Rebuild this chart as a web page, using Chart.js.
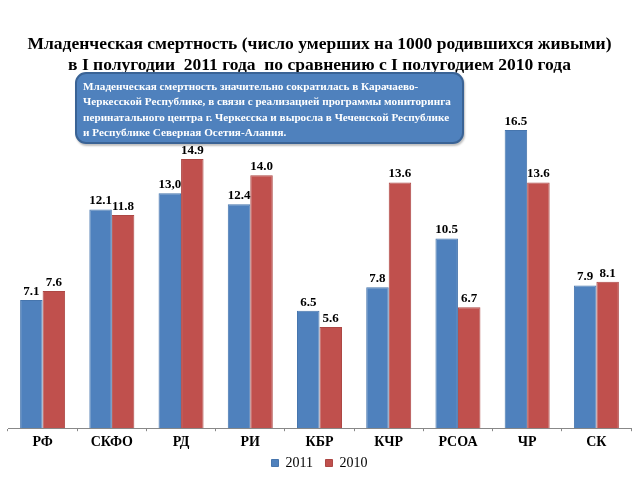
<!DOCTYPE html>
<html>
<head>
<meta charset="utf-8">
<script src="https://cdn.jsdelivr.net/npm/chart.js@4.4.0/dist/chart.umd.min.js"></script>
<style>
  html, body { margin: 0; padding: 0; background: #fff; }
  #wrap { position: relative; width: 640px; height: 480px; }
  #note {
    position: absolute; left: 75px; top: 72px; width: 374px; height: 57px;
    padding: 5px 5px 6px 6px; white-space: nowrap; overflow: hidden;
    background: #4f81bd; border: 2px solid #3a6395; border-radius: 11px;
    box-shadow: 1px 2px 2px rgba(0,0,0,0.25);
    color: #fff; font: bold 11.2px "Liberation Serif", serif; line-height: 15.4px;
  }
</style>
</head>
<body>
<div id="wrap">
  <canvas id="chart" width="640" height="480"></canvas>
  <div id="note">Младенческая смертность значительно сократилась в Карачаево-<br>Черкесской Республике, в связи с реализацией программы мониторинга<br>перинатального центра г. Черкесска и выросла в Чеченской Республике<br>и Республике Северная Осетия-Алания.</div>
</div>
<script>
// Данные
const regions = ['РФ', 'СКФО', 'РД', 'РИ', 'КБР', 'КЧР', 'РСОА', 'ЧР', 'СК'];
const values2011 = [7.1, 12.1, 13.0, 12.4, 6.5, 7.8, 10.5, 16.5, 7.9];
const values2010 = [7.6, 11.8, 14.9, 14.0, 5.6, 13.6, 6.7, 13.6, 8.1];
const labels2011 = ['7.1', '12.1', '13,0', '12.4', '6.5', '7.8', '10.5', '16.5', '7.9'];
const labels2010 = ['7.6', '11.8', '14.9', '14.0', '5.6', '13.6', '6.7', '13.6', '8.1'];

const serif = '"Liberation Serif", "Times New Roman", serif';

// подписи значений над столбиками
const valueLabels = {
    id: 'valueLabels',
    afterDatasetsDraw(chart) {
        const ctx = chart.ctx;
        const texts = [labels2011, labels2010];
        ctx.save();
        ctx.font = 'bold 13px ' + serif;
        ctx.fillStyle = '#000';
        ctx.textAlign = 'center';
        ctx.textBaseline = 'bottom';
        chart.data.datasets.forEach((ds, i) => {
            chart.getDatasetMeta(i).data.forEach((bar, j) => {
                ctx.fillText(texts[i][j], bar.x, bar.y - 2);
            });
        });
        ctx.restore();
    }
};

new Chart(document.getElementById('chart'), {
    type: 'bar',
    data: {
        labels: regions,
        datasets: [
            { label: '2011', data: values2011, backgroundColor: '#4f81bd', borderColor: '#4675ad', borderWidth: 1 },
            { label: '2010', data: values2010, backgroundColor: '#c0504d', borderColor: '#ad4744', borderWidth: 1 }
        ]
    },
    options: {
        responsive: false,
        animation: false,
        layout: { padding: { left: 8, right: 9, bottom: 0 } },
        datasets: { bar: { categoryPercentage: 0.65, barPercentage: 1 } },
        scales: {
            y: { display: false, min: 0, max: 18 },
            x: {
                grid: { display: true, drawOnChartArea: false, offset: true, tickLength: 3, color: '#888' },
                border: { color: '#888' },
                ticks: { color: '#000', font: { family: serif, size: 14, weight: 'bold' }, padding: 3 }
            }
        },
        plugins: {
            title: {
                display: true,
                text: ['Младенческая смертность (число умерших на 1000 родившихся живыми)',
                       'в I полугодии  2011 года  по сравнению с I полугодием 2010 года'],
                color: '#000',
                font: { family: serif, size: 17.5, weight: 'bold', lineHeight: 1.2 },
                padding: { top: 34, bottom: 27 }
            },
            legend: {
                position: 'bottom',
                labels: {
                    color: '#000', boxWidth: 7, boxHeight: 7, padding: 2,
                    font: { family: serif, size: 14 },
                    // немного места между элементами легенды
                    generateLabels(chart) {
                        const items = Chart.defaults.plugins.legend.labels.generateLabels(chart);
                        items.forEach((it, i) => { if (i < items.length - 1) it.text += '   '; });
                        return items;
                    }
                }
            },
            tooltip: { enabled: false }
        }
    },
    plugins: [valueLabels]
});
</script>
</body>
</html>
